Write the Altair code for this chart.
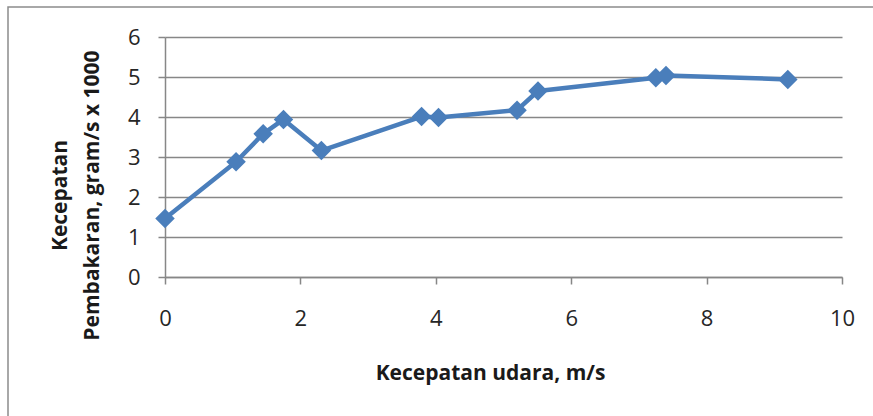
import altair as alt
import pandas as pd

# Burning rate vs. air velocity
air_speed = [0.0, 1.05, 1.45, 1.75, 2.31, 3.79, 4.04, 5.20, 5.51, 7.25, 7.40, 9.20]
burn_rate = [1.46, 2.88, 3.58, 3.94, 3.16, 4.01, 3.99, 4.17, 4.65, 4.98, 5.04, 4.94]

x_ticks = [0, 2, 4, 6, 8, 10]
y_ticks = [0, 1, 2, 3, 4, 5, 6]

df = pd.DataFrame({"v": air_speed, "r": burn_rate})

FONT = "Open Sans"
GRID = "#878787"
BLUE = "#4A7EBB"

x_enc = alt.X(
    "v:Q",
    scale=alt.Scale(domain=[0, 10], nice=False, zero=False),
    axis=alt.Axis(
        values=x_ticks,
        title="Kecepatan udara, m/s",
        grid=False,
        tickSize=7,
        labelPadding=24,
        labelFlush=False,
        labelOverlap=False,
        titleX=325,
        titleY=102,
        titleAlign="center",
        titleBaseline="alphabetic",
    ),
)
y_enc = alt.Y(
    "r:Q",
    scale=alt.Scale(domain=[0, 6], nice=False),
    axis=alt.Axis(
        values=y_ticks,
        title=["Kecepatan", "Pembakaran, gram/s x 1000"],
        grid=True,
        tickSize=7,
        labelPadding=18,
        labelOverlap=False,
        labelFlush=False,
        titleLineHeight=32,
        titleX=-99,
        titleY=158,
        titleAlign="center",
        titleBaseline="alphabetic",
    ),
)

base = alt.Chart(df).encode(x=x_enc, y=y_enc)

line = base.mark_line(color=BLUE, strokeWidth=4.5, strokeJoin="round")

pts = base.mark_point(
    shape="diamond", filled=True, size=380, color=BLUE, opacity=1
)

frame = alt.Chart(pd.DataFrame({"k": [0]})).mark_rect(
    fill=None, stroke="#8c8c8c", strokeWidth=1.5
).encode(
    x=alt.value(-157),
    x2=alt.value(760),
    y=alt.value(-30),
    y2=alt.value(420),
)

chart = (
    alt.layer(frame, line, pts)
    .properties(
        width=677,
        height=240,
        autosize=alt.AutoSizeParams(type="none"),
        padding={"left": 165, "top": 37, "right": 31, "bottom": 139},
        background="white",
    )
    .configure_view(stroke=None)
    .configure_axis(
        domainColor=GRID,
        domainWidth=1.5,
        tickColor=GRID,
        tickWidth=1.5,
        gridColor=GRID,
        gridWidth=1.3,
        labelFont=FONT,
        labelFontSize=22,
        labelColor="#262626",
        titleFont=FONT,
        titleFontSize=21,
        titleFontWeight="bold",
        titleColor="#1a1a1a",
    )
)

chart.save("out.html", embed_options={"renderer": "svg", "actions": False})
